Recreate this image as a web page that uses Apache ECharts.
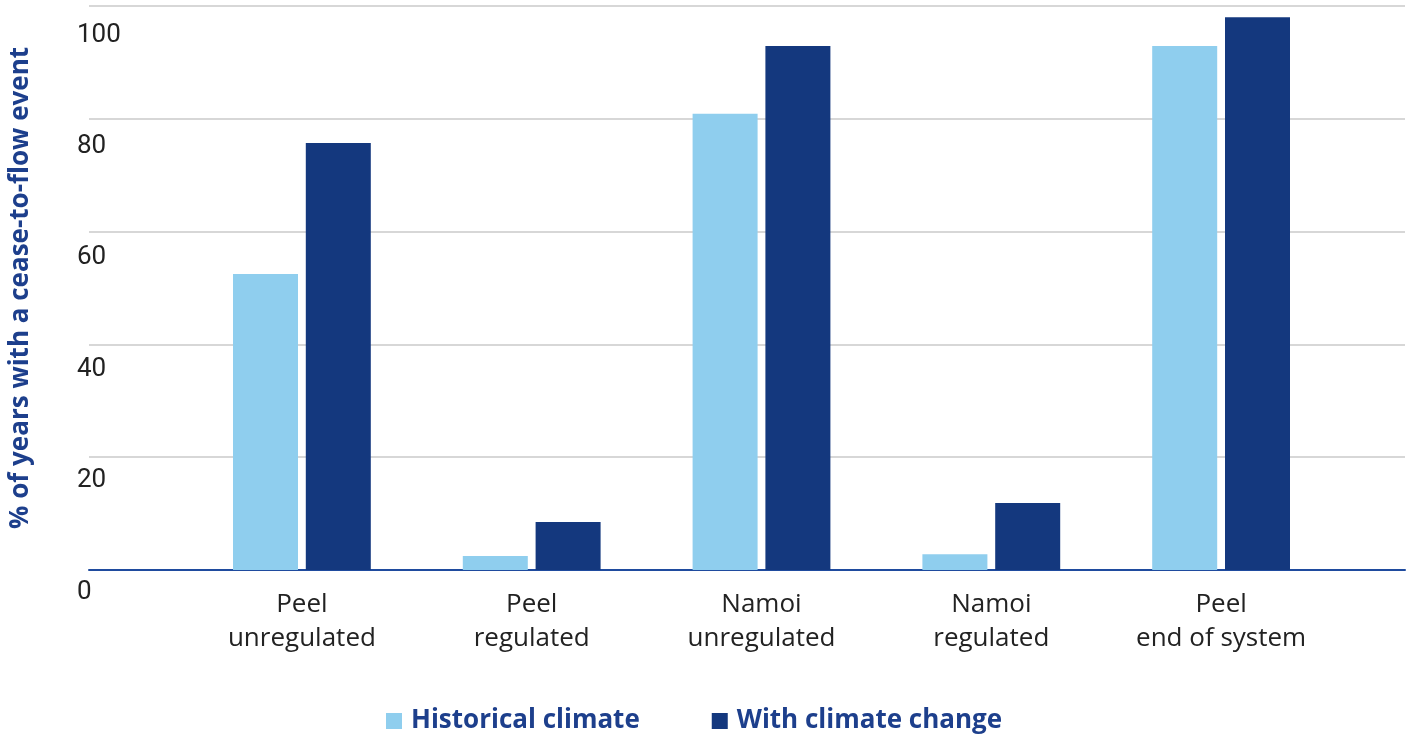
<!DOCTYPE html>
<html>
<head>
<meta charset="utf-8">
<style>
  html, body { margin: 0; padding: 0; background: #ffffff; }
  #chart { width: 1415px; height: 738px; }
</style>
<script src="https://cdn.jsdelivr.net/npm/echarts@6/dist/echarts.min.js"></script>
</head>
<body>
<div id="chart"></div>
<script>
// Share of years with a cease-to-flow event, by river reach
const categories = [
  'Peel\nunregulated',
  'Peel\nregulated',
  'Namoi\nunregulated',
  'Namoi\nregulated',
  'Peel\nend of system'
];
const historicalClimate = [52.5, 2.5, 80.9, 2.8, 92.9];
const withClimateChange = [75.7, 8.5, 92.9, 11.9, 98.0];
const seriesNames = ['Historical climate', 'With climate change'];
const yTicks = { min: 0, max: 100, interval: 20 };
const yTitle = '% of years with a cease-to-flow event';

const LIGHT = '#8fceee';
const DARK = '#14387e';
const TITLE_BLUE = '#1d3f8c';
const NUM_FONT = 'Roboto, "Noto Sans", sans-serif';
const TEXT_FONT = '"Open Sans", "Noto Sans", sans-serif';

const chart = echarts.init(document.getElementById('chart'), null, { renderer: 'canvas' });

chart.setOption({
  animation: false,
  backgroundColor: '#ffffff',
  textStyle: { fontFamily: TEXT_FONT },
  legend: {
    data: seriesNames,
    left: 386,
    top: 708,
    padding: 0,
    icon: 'rect',
    itemWidth: 16,
    itemHeight: 16,
    itemGap: 72,
    textStyle: { fontFamily: TEXT_FONT, fontSize: 26, fontWeight: 'bold', color: TITLE_BLUE, padding: [0, 0, 0, 4] }
  },
  grid: [
    // gridlines, baseline and axis title
    { left: 79, right: 10, top: 6, bottom: 168 },
    // bars and category labels
    { left: 187, right: 79, top: 6, bottom: 168 },
    // y tick labels
    { left: 77, width: 60, top: 35, bottom: 146 }
  ],
  xAxis: [
    {
      gridIndex: 0, type: 'value', min: 0, max: 1,
      axisLine: { show: true, onZero: false, lineStyle: { color: '#1f4b9e', width: 2 } },
      axisTick: { show: false }, axisLabel: { show: false }, splitLine: { show: false }
    },
    {
      gridIndex: 1, type: 'category', data: categories,
      axisLine: { show: false }, axisTick: { show: false },
      axisLabel: { margin: 18, fontSize: 26, lineHeight: 34, color: '#222222', fontFamily: TEXT_FONT }
    },
    {
      gridIndex: 2, type: 'value', min: 0, max: 1, show: false
    }
  ],
  yAxis: [
    {
      gridIndex: 0, type: 'value', min: yTicks.min, max: yTicks.max, interval: yTicks.interval,
      axisLine: { show: false }, axisTick: { show: false }, axisLabel: { show: false },
      splitLine: { show: true, lineStyle: { color: '#cacaca', width: 1.5 } },
      name: yTitle, nameLocation: 'middle', nameRotate: 90, nameGap: 55,
      nameTextStyle: { fontFamily: TEXT_FONT, fontSize: 26, fontWeight: 'bold', color: TITLE_BLUE }
    },
    {
      gridIndex: 1, type: 'value', min: yTicks.min, max: yTicks.max, interval: yTicks.interval,
      show: false, splitLine: { show: false }
    },
    {
      gridIndex: 2, type: 'value', min: yTicks.min, max: yTicks.max, interval: yTicks.interval,
      axisLine: { show: false }, axisTick: { show: false }, splitLine: { show: false },
      axisLabel: { inside: true, margin: 0, fontSize: 26, color: '#222222', fontFamily: NUM_FONT, verticalAlign: 'middle' }
    }
  ],
  series: [
    {
      name: seriesNames[0], type: 'bar', xAxisIndex: 1, yAxisIndex: 1,
      data: historicalClimate, barWidth: 65, barGap: '12%',
      itemStyle: { color: LIGHT }
    },
    {
      name: seriesNames[1], type: 'bar', xAxisIndex: 1, yAxisIndex: 1,
      data: withClimateChange, barWidth: 65, barGap: '12%',
      itemStyle: { color: DARK }
    }
  ]
});
</script>
</body>
</html>
